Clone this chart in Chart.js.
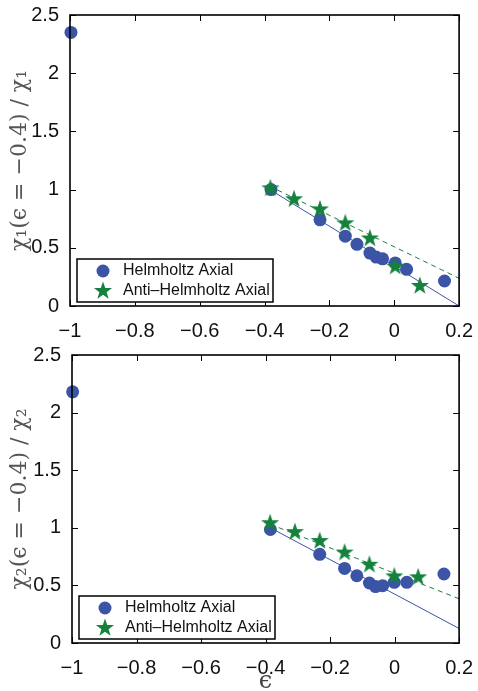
<!DOCTYPE html>
<html>
<head>
<meta charset="utf-8">
<script src="https://cdn.jsdelivr.net/npm/chart.js@4.4.1/dist/chart.umd.min.js"></script>
<style>
  body { margin: 0; background: #fff; }
  .box { position: absolute; left: 0; width: 478px; }
  #top { top: 0; height: 340px; }
  #bot { top: 340px; height: 351px; }
</style>
</head>
<body>
<div class="box" id="top"><canvas id="c1" width="478" height="340"></canvas></div>
<div class="box" id="bot"><canvas id="c2" width="478" height="351"></canvas></div>
<script>
// values
const helmX1 = [-0.997, -0.38, -0.229, -0.151, -0.115, -0.075, -0.056, -0.036, 0.003, 0.038, 0.155]
const helmY1 = [2.35, 1.0, 0.74, 0.60, 0.53, 0.455, 0.42, 0.405, 0.37, 0.315, 0.215]
const antiX1 = [-0.382, -0.309, -0.229, -0.151, -0.075, 0.003, 0.079]
const antiY1 = [1.01, 0.917, 0.83, 0.71, 0.58, 0.338, 0.172]
const fitHelmX1 = [-0.395, 0.2]
const fitHelmY1 = [1.02, 0.0]
const fitAntiX1 = [-0.385, 0.2]
const fitAntiY1 = [1.03, 0.238]

const helmX2 = [-0.998, -0.385, -0.232, -0.155, -0.117, -0.078, -0.059, -0.037, -0.001, 0.038, 0.153]
const helmY2 = [2.18, 0.985, 0.77, 0.647, 0.584, 0.521, 0.49, 0.498, 0.527, 0.527, 0.599]
const antiX2 = [-0.386, -0.309, -0.232, -0.155, -0.078, -0.001, 0.073]
const antiY2 = [1.04, 0.962, 0.885, 0.785, 0.679, 0.578, 0.57]
const fitHelmX2 = [-0.385, 0.2]
const fitHelmY2 = [1.0, 0.126]
const fitAntiX2 = [-0.385, 0.2]
const fitAntiY2 = [1.03, 0.384]

const xTicks = [-1, -0.8, -0.6, -0.4, -0.2, 0, 0.2]
const yTicks = [0, 0.5, 1, 1.5, 2, 2.5]
const seriesNames = ["Helmholtz Axial", "Anti\u2013Helmholtz Axial"]

const blue = "#3b54a6"
const green = "#14823c"

function pts(xs, ys) {
  return xs.map((x, i) => ({ x: x, y: ys[i] }))
}

// filled pentagram for the star markers
function makeStar(size) {
  const cv = document.createElement("canvas")
  cv.width = size
  cv.height = size
  const g = cv.getContext("2d")
  const c = size / 2, ro = size / 2 - 0.5, ri = ro * 0.4
  g.beginPath()
  for (let i = 0; i < 10; i++) {
    const r = i % 2 === 0 ? ro : ri
    const a = -Math.PI / 2 + i * Math.PI / 5
    const px = c + r * Math.cos(a), py = c + r * Math.sin(a)
    if (i === 0) g.moveTo(px, py)
    else g.lineTo(px, py)
  }
  g.closePath()
  g.fillStyle = green
  g.fill()
  return cv
}
const star = makeStar(20)

function fmt(v) {
  return (v < 0 ? "\u2212" : "") + String(Math.abs(v))
}

// box, inward ticks and the legend inside the plot
const frame = {
  id: "frame",
  afterDatasetsDraw(chart) {
    const ctx = chart.ctx
    const a = chart.chartArea
    const xs = chart.scales.x, ys = chart.scales.y
    ctx.save()
    ctx.strokeStyle = "#000"
    ctx.lineWidth = 1
    xTicks.forEach(v => {
      const px = Math.round(xs.getPixelForValue(v)) + 0.5
      ctx.beginPath()
      ctx.moveTo(px, a.bottom); ctx.lineTo(px, a.bottom - 6)
      ctx.moveTo(px, a.top); ctx.lineTo(px, a.top + 6)
      ctx.stroke()
    })
    yTicks.forEach(v => {
      const py = Math.round(ys.getPixelForValue(v)) + 0.5
      ctx.beginPath()
      ctx.moveTo(a.left, py); ctx.lineTo(a.left + 6, py)
      ctx.moveTo(a.right, py); ctx.lineTo(a.right - 6, py)
      ctx.stroke()
    })
    ctx.lineWidth = 1.6
    ctx.strokeRect(a.left, a.top, a.right - a.left, a.bottom - a.top)

    // legend
    const lx = a.left + 7, lw = 196, lh = 43
    const ly = a.bottom - 4 - lh
    ctx.fillStyle = "#fff"
    ctx.fillRect(lx, ly, lw, lh)
    ctx.lineWidth = 1.5
    ctx.strokeRect(lx, ly, lw, lh)
    ctx.fillStyle = blue
    ctx.beginPath()
    ctx.arc(lx + 26, ly + 12, 6.5, 0, Math.PI * 2)
    ctx.fill()
    ctx.drawImage(star, lx + 16, ly + 22)
    ctx.fillStyle = "#111"
    ctx.font = "16px 'Liberation Sans', Arial, sans-serif"
    ctx.textBaseline = "middle"
    ctx.fillText(seriesNames[0], lx + 46, ly + 12)
    ctx.fillText(seriesNames[1], lx + 46, ly + 32)
    ctx.restore()
  }
}

function build(id, d, opts) {
  new Chart(document.getElementById(id).getContext("2d"), {
    type: "scatter",
    data: {
      datasets: [
        {
          label: "fitHelm",
          type: "line",
          data: pts(d.fhx, d.fhy),
          borderColor: blue,
          borderWidth: 1,
          pointRadius: 0,
          order: 4
        },
        {
          label: "fitAnti",
          type: "line",
          data: pts(d.fax, d.fay),
          borderColor: green,
          borderWidth: 1,
          borderDash: [5, 4],
          pointRadius: 0,
          order: 3
        },
        {
          label: seriesNames[0],
          data: pts(d.hx, d.hy),
          backgroundColor: blue,
          borderColor: blue,
          borderWidth: 0,
          pointRadius: 6.5,
          order: 2
        },
        {
          label: seriesNames[1],
          data: pts(d.ax, d.ay),
          pointStyle: star,
          pointRadius: 10,
          order: 1
        }
      ]
    },
    options: {
      responsive: false,
      animation: false,
      clip: false,
      layout: { padding: { top: opts.top, right: opts.right, left: 0, bottom: 0 } },
      plugins: { legend: { display: false }, tooltip: { enabled: false } },
      scales: {
        x: {
          type: "linear",
          min: -1, max: 0.2,
          grid: { display: false },
          border: { display: false },
          afterBuildTicks: s => { s.ticks = xTicks.map(v => ({ value: v })) },
          afterFit: s => { s.height = opts.xh },
          ticks: {
            color: "#111",
            padding: 5,
            maxRotation: 0,
            font: { family: "'Liberation Sans', Arial, sans-serif", size: 20 },
            callback: v => fmt(v)
          },
          title: {
            display: opts.xtitle,
            text: "\u03f5",
            color: "#444",
            padding: 0,
            font: { family: "'DejaVu Serif', serif", size: 24, lineHeight: 0.8 }
          }
        },
        y: {
          min: 0, max: 2.5,
          grid: { display: false },
          border: { display: false },
          afterBuildTicks: s => { s.ticks = yTicks.map(v => ({ value: v })) },
          afterFit: s => { s.width = opts.yw },
          ticks: {
            color: "#111",
            padding: 3,
            font: { family: "'Liberation Sans', Arial, sans-serif", size: 20 },
            callback: v => fmt(v)
          },
          title: {
            display: true,
            text: opts.ytitle,
            color: "#555",
            padding: { top: 7 },
            font: { family: "'DejaVu Serif', 'Liberation Serif', serif", size: 22 }
          }
        }
      }
    },
    plugins: [frame]
  })
}

build("c1",
  { hx: helmX1, hy: helmY1, ax: antiX1, ay: antiY1, fhx: fitHelmX1, fhy: fitHelmY1, fax: fitAntiX1, fay: fitAntiY1 },
  { top: 15, right: 18, xh: 34, yw: 70, xtitle: false, ytitle: "\u03c7\u2081(\u03f5 = \u22120.4) / \u03c7\u2081" })

build("c2",
  { hx: helmX2, hy: helmY2, ax: antiX2, ay: antiY2, fhx: fitHelmX2, fhy: fitHelmY2, fax: fitAntiX2, fay: fitAntiY2 },
  { top: 12, right: 16, xh: 48, yw: 72, xtitle: true, ytitle: "\u03c7\u2082(\u03f5 = \u22120.4) / \u03c7\u2082" })
</script>
</body>
</html>
